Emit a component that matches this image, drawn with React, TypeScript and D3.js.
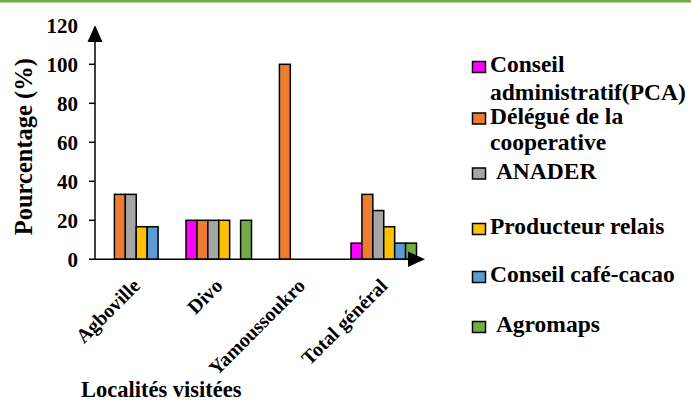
import React from "react";
import * as d3 from "d3";

const categories = ["Agboville", "Divo", "Yamoussoukro", "Total général"];
const seriesNames = [
  "Conseil administratif(PCA)",
  "Délégué de la cooperative",
  "ANADER",
  "Producteur relais",
  "Conseil café-cacao",
  "Agromaps",
];
const seriesColors = ["#FF00FF", "#ED7D31", "#A5A5A5", "#FFC000", "#5B9BD5", "#70AD47"];
const pcaValues = [0, 20, 0, 8.3];
const delegueValues = [33.3, 20, 100, 33.3];
const anaderValues = [33.3, 20, 0, 25];
const producteurValues = [16.7, 20, 0, 16.7];
const conseilCafeValues = [16.7, 0, 0, 8.3];
const agromapsValues = [0, 20, 0, 8.3];
const yTicks = [0, 20, 40, 60, 80, 100, 120];

const legendLines = [
  ["Conseil", "administratif(PCA)"],
  ["Délégué de la", "cooperative"],
  ["\u00a0ANADER"],
  ["Producteur relais"],
  ["Conseil café-cacao"],
  ["\u00a0Agromaps"],
];

const FONT = "Liberation Serif";

export default function App() {
  const W = 691, H = 400;
  const series = [pcaValues, delegueValues, anaderValues, producteurValues, conseilCafeValues, agromapsValues];
  const x0 = d3.scaleBand<string>().domain(categories).range([95, 425]).paddingInner(0.206).paddingOuter(0.103);
  const x1 = d3.scaleBand<number>().domain(d3.range(seriesNames.length)).range([0, x0.bandwidth()]);
  const y = d3.scaleLinear().domain([0, 120]).range([259.3, 25.3]);

  const legendBaselines = [[72, 100], [123.5, 149.5], [178.5], [234], [282], [332]];

  return (
    <svg width={W} height={H} style={{ position: "absolute", left: 0, top: 0 }}>
      <rect x={0} y={0} width={W} height={H} fill="#fff" />
      <rect x={0} y={0} width={W} height={2.5} fill="#70AD47" />
      {categories.map((c, ci) => (
        <g key={c} transform={`translate(${x0(c)},0)`}>
          {series.map((vals, si) =>
            vals[ci] > 0 ? (
              <rect
                key={si}
                x={x1(si)}
                y={y(vals[ci])}
                width={x1.bandwidth()}
                height={y(0) - y(vals[ci])}
                fill={seriesColors[si]}
                stroke="#000"
                strokeWidth={1.5}
              />
            ) : null
          )}
        </g>
      ))}
      <line x1={95} x2={95} y1={y(0)} y2={36} stroke="#000" strokeWidth={1.5} />
      <path d={`M95,${y(120)} L87.5,42 L102.5,42 Z`} fill="#000" />
      {yTicks.map((t) =>
        t > 0 && t < 120 ? <line key={"l" + t} x1={89} x2={95} y1={y(t)} y2={y(t)} stroke="#000" strokeWidth={1.5} /> : null
      )}
      {yTicks.map((t) => (
        <text key={"t" + t} x={78} y={y(t)} dy="0.35em" textAnchor="end" fontSize={21} fontFamily={FONT} fontWeight="bold">
          {t}
        </text>
      ))}
      <line x1={89} x2={412} y1={y(0)} y2={y(0)} stroke="#000" strokeWidth={1.5} />
      <path d={`M425,${y(0)} L408,251.5 L408,267 Z`} fill="#000" />
      {categories.map((c) => {
        const cx = (x0(c) as number) + x0.bandwidth() / 2 + 5;
        return (
          <text key={c} transform={`translate(${cx},287) rotate(-45)`} textAnchor="end" fontSize={20} fontFamily={FONT} fontWeight="bold">
            {c}
          </text>
        );
      })}
      <text transform="translate(32,146.7) rotate(-90)" textAnchor="middle" fontSize={24.5} fontFamily={FONT} fontWeight="bold">
        Pourcentage (%)
      </text>
      <text x={81} y={396.5} fontSize={22.5} fontFamily={FONT} fontWeight="bold">
        Localités visitées
      </text>
      {seriesNames.map((s, i) => (
        <rect key={"r" + s} x={472.5} y={legendBaselines[i][0] - 10.5} width={13} height={11} fill={seriesColors[i]} stroke="#000" strokeWidth={1.5} />
      ))}
      {seriesNames.map((s, i) =>
        legendLines[i].map((ln, li) => (
          <text key={s + li} x={490} y={legendBaselines[i][li]} fontSize={23.5} fontFamily={FONT} fontWeight="bold">
            {ln}
          </text>
        ))
      )}
    </svg>
  );
}
